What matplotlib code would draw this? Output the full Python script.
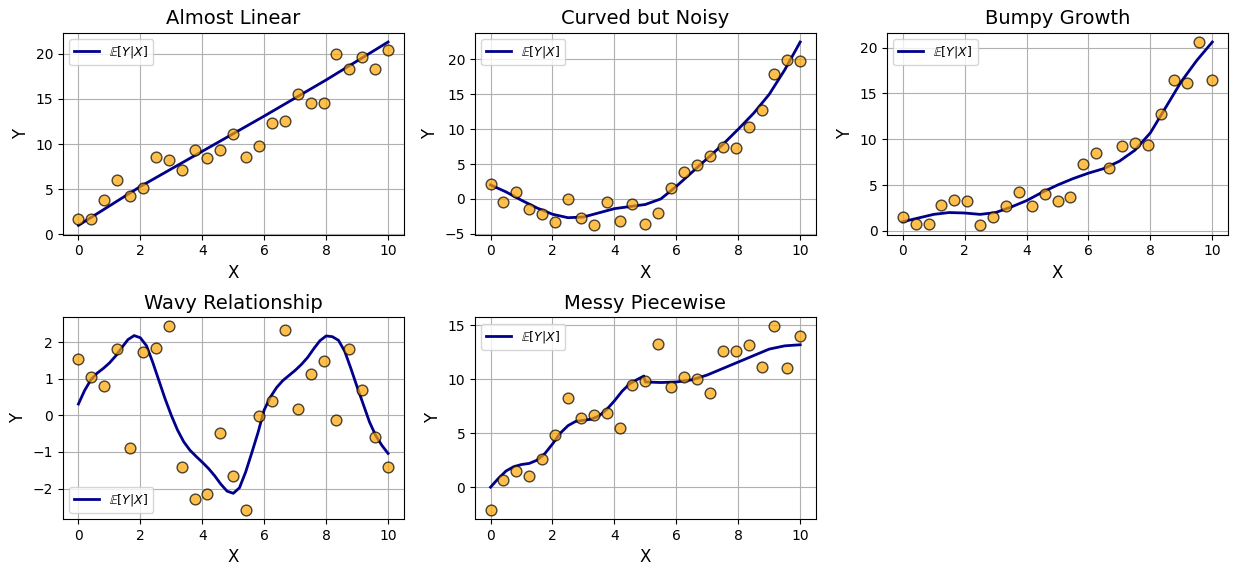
import numpy as np
import matplotlib
matplotlib.use("Agg")
import matplotlib.pyplot as plt

# shared x positions of the scatter points (25 evenly spaced samples on [0, 10])
x_points = np.linspace(0, 10, 25)

# --- Almost Linear ---
lin_y = [1.7, 1.7, 3.8, 6.0, 4.2, 5.1, 8.6, 8.2, 7.1, 9.3, 8.5, 9.3, 11.1,
         8.6, 9.8, 12.3, 12.6, 15.5, 14.5, 14.6, 20.0, 18.3, 19.6, 18.3, 20.4]
lin_curve_x = [0, 2, 4, 6, 8, 10]
lin_curve_y = [1.0, 5.3, 9.2, 13.1, 17.1, 21.3]

# --- Curved but Noisy ---
curved_y = [2.2, -0.5, 1.0, -1.5, -2.2, -3.3, 0.0, -2.8, -3.8, -0.5, -3.2, -0.8, -3.6,
            -2.0, 1.5, 3.9, 4.9, 6.2, 7.4, 7.3, 10.3, 12.8, 17.9, 19.9, 19.8]
curved_curve_x = [0, 0.5, 1, 1.5, 2, 2.5, 3, 3.5, 4, 4.5, 5, 5.5, 6, 6.5, 7, 7.5, 8, 8.5, 9, 9.5, 10]
curved_curve_y = [2.0, 1.0, -0.2, -1.3, -2.2, -2.7, -2.6, -2.0, -1.4, -1.1, -0.8, 0.0,
                  1.8, 3.8, 5.8, 7.8, 10.0, 12.3, 15.0, 18.5, 22.5]

# --- Bumpy Growth ---
bumpy_y = [1.5, 0.8, 0.7, 2.8, 3.4, 3.3, 0.6, 1.5, 2.7, 4.2, 2.7, 4.0, 3.3,
           3.7, 7.3, 8.5, 6.9, 9.3, 9.6, 9.4, 12.7, 16.5, 16.1, 20.6, 16.5]
bumpy_curve_x = [0, 0.5, 1, 1.5, 2, 2.5, 3, 3.5, 4, 4.5, 5, 5.5, 6, 6.5, 7, 7.5, 8, 8.5, 9, 9.5, 10]
bumpy_curve_y = [1.0, 1.4, 1.8, 2.0, 1.95, 1.8, 2.0, 2.6, 3.3, 4.2, 5.0, 5.7, 6.3,
                 6.8, 7.6, 8.8, 10.7, 13.5, 16.3, 18.6, 20.6]

# --- Wavy Relationship ---
wavy_y = [1.55, 1.05, 0.8, 1.8, -0.88, 1.72, 1.85, 2.43, -1.4, -2.28, -2.15, -0.48, -1.65,
          -2.58, -0.03, 0.4, 2.34, 0.17, 1.13, 1.48, -0.12, 1.82, 0.68, -0.58, -1.4]
wavy_curve_x = [0, 0.2, 0.4, 0.6, 0.8, 1.0, 1.2, 1.4, 1.6, 1.8, 2.0, 2.2, 2.4, 2.6, 2.8,
                3.0, 3.2, 3.4, 3.6, 3.8, 4.0, 4.2, 4.4, 4.6, 4.8, 5.0, 5.2, 5.4, 5.6, 5.8,
                6.0, 6.2, 6.4, 6.6, 6.8, 7.0, 7.2, 7.4, 7.6, 7.8, 8.0, 8.2, 8.4, 8.6, 8.8,
                9.0, 9.2, 9.4, 9.6, 9.8, 10.0]
wavy_curve_y = [0.31, 0.68, 0.97, 1.15, 1.28, 1.43, 1.62, 1.85, 2.07, 2.18, 2.12, 1.90,
                1.45, 0.95, 0.45, 0.0, -0.40, -0.72, -0.95, -1.12, -1.28, -1.45, -1.65,
                -1.88, -2.07, -2.13, -1.98, -1.55, -1.02, -0.47, 0.15, 0.50, 0.76, 0.95,
                1.09, 1.23, 1.39, 1.58, 1.82, 2.04, 2.17, 2.15, 2.05, 1.75, 1.28, 0.78,
                0.30, -0.18, -0.55, -0.82, -1.04]

# --- Messy Piecewise ---
messy_y = [-2.1, 0.7, 1.5, 1.0, 2.6, 4.8, 8.3, 6.4, 6.7, 6.9, 5.5, 9.5, 9.8,
           13.3, 9.3, 10.2, 10.0, 8.7, 12.6, 12.6, 13.2, 11.1, 14.9, 11.0, 14.0]
messy_curve_x = [0, 0.25, 0.5, 0.75, 1.0, 1.25, 1.5, 1.75, 2.0, 2.25, 2.5, 2.75, 3.0, 3.25,
                 3.5, 3.75, 4.0, 4.25, 4.5, 4.75, 4.95, 5.0, 5.5, 6.0, 6.5, 7.0, 7.5,
                 8.0, 8.5, 9.0, 9.5, 10.0]
messy_curve_y = [0.0, 0.8, 1.5, 1.9, 2.1, 2.2, 2.5, 3.1, 4.0, 5.0, 5.7, 6.1, 6.2, 6.3,
                 6.6, 7.2, 8.0, 8.9, 9.6, 10.0, 10.3, 9.75, 9.7, 9.75, 9.95, 10.4, 11.0,
                 11.6, 12.2, 12.8, 13.1, 13.2]

panels = [
    ("Almost Linear", lin_y, lin_curve_x, lin_curve_y, "upper left"),
    ("Curved but Noisy", curved_y, curved_curve_x, curved_curve_y, "upper left"),
    ("Bumpy Growth", bumpy_y, bumpy_curve_x, bumpy_curve_y, "upper left"),
    ("Wavy Relationship", wavy_y, wavy_curve_x, wavy_curve_y, "lower left"),
    ("Messy Piecewise", messy_y, messy_curve_x, messy_curve_y, "upper left"),
]

fig, axes = plt.subplots(2, 3, figsize=(12.34, 5.76), dpi=100)
axes = axes.flatten()

for ax, (title, ys, cx, cy, loc) in zip(axes, panels):
    ax.scatter(x_points, ys, s=60, color="orange", alpha=0.7, edgecolor="black", zorder=3)
    ax.plot(cx, cy, color="darkblue", linewidth=2, label=r"$\mathbb{E}[Y|X]$", zorder=2)
    ax.set_title(title, fontsize=14)
    ax.set_xlabel("X", fontsize=12)
    ax.set_ylabel("Y", fontsize=12)
    ax.legend(loc=loc, fontsize=9)
    ax.grid(True)

axes[5].axis("off")

plt.subplots_adjust(left=0.051, right=0.995, top=0.943, bottom=0.099,
                    wspace=0.21, hspace=0.41)
plt.savefig("out.png", dpi=100)
